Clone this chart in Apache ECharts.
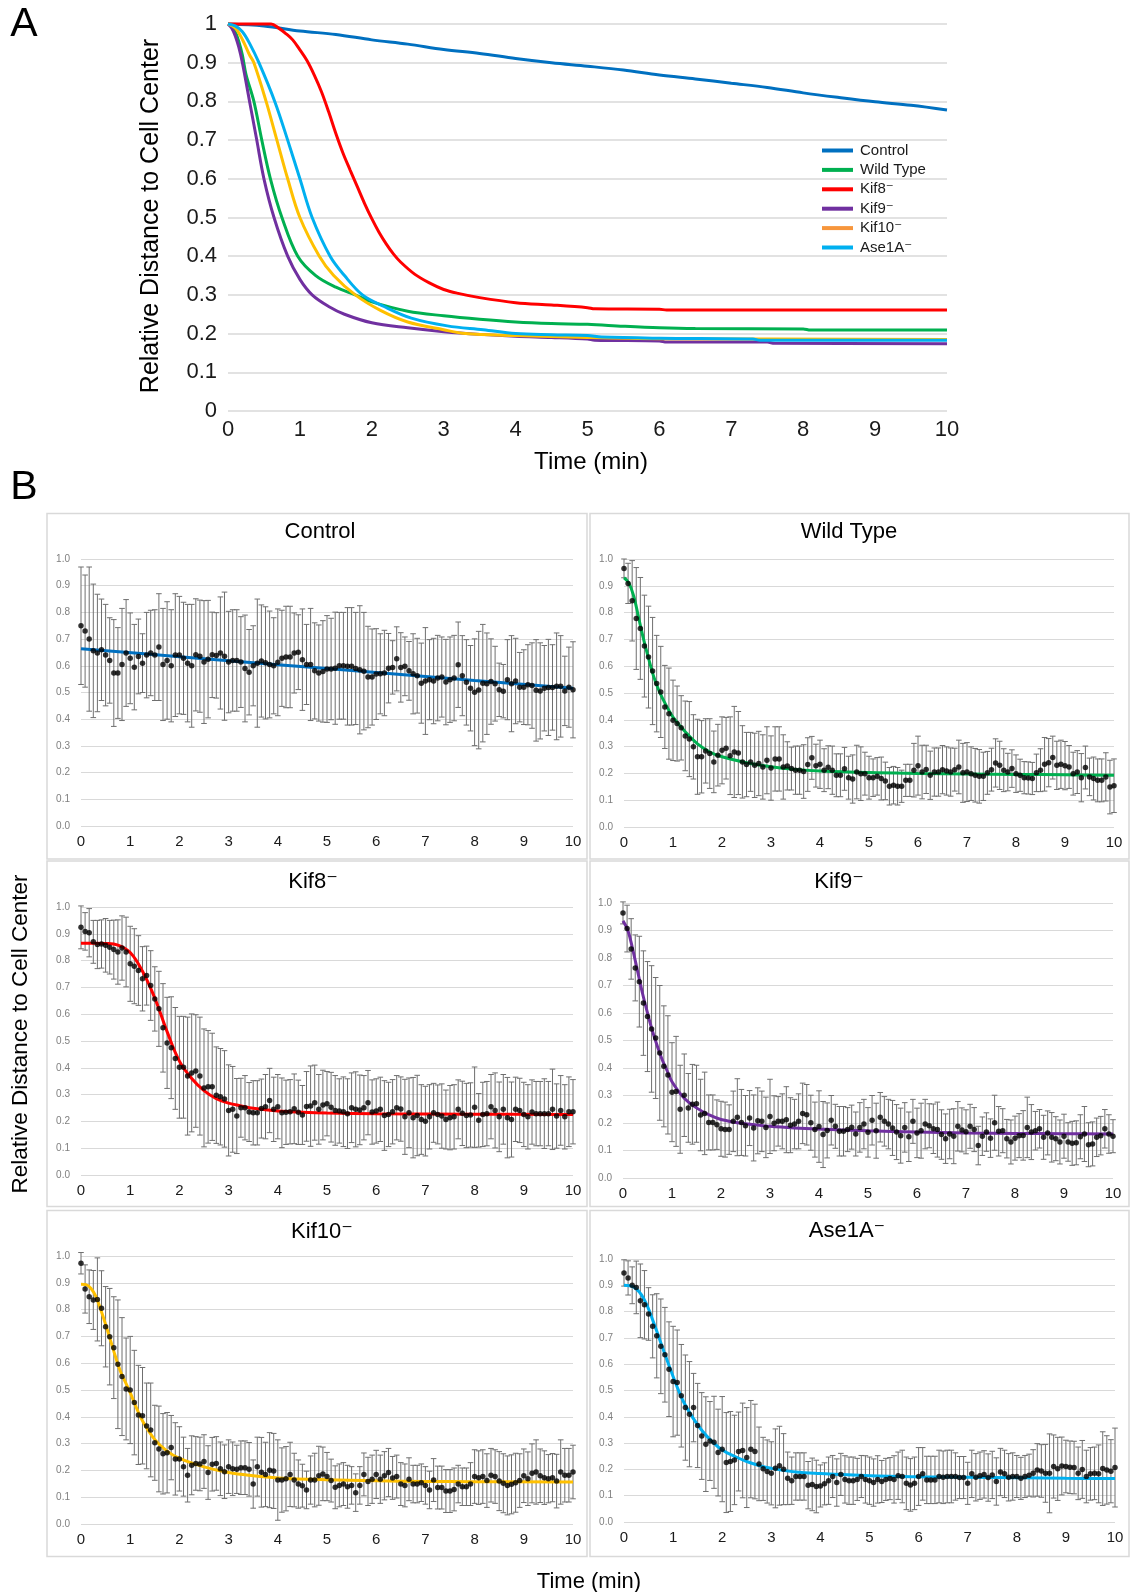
<!DOCTYPE html>
<html><head><meta charset="utf-8">
<script src="https://cdn.jsdelivr.net/npm/echarts/dist/echarts.min.js"></script>
<style>html,body{margin:0;padding:0;background:#fff}#c{width:1131px;height:1592px}</style>
</head><body><div id="c"></div>
<script>
// ---------------- Panel A : averaged curves ----------------
const legendNames = ['Control','Wild Type','Kif8\u207B','Kif9\u207B','Kif10\u207B','Ase1A\u207B'];
const lineColors = ['#0070C0','#00B050','#FF0000','#7030A0','#FFC000','#00B0F0'];
const legendColors = ['#0070C0','#00B050','#FF0000','#7030A0','#F7963C','#00B0F0'];
const ticksA = [0,1,2,3,4,5,6,7,8,9,10];

const curveControl = [[0,1],[0.5,0.995],[1,0.982],[1.5,0.973],[2,0.959],[2.5,0.948],[3,0.934],[3.5,0.924],[4,0.911],[4.5,0.9],[5,0.891],[5.5,0.881],[6,0.868],[6.5,0.858],[7,0.847],[7.5,0.836],[8,0.822],[8.5,0.81],[9,0.799],[9.5,0.79],[10,0.778]];
const curveWT = [[0,1],[0.05,0.995],[0.1,0.98],[0.15,0.955],[0.2,0.92],[0.25,0.87],[0.36,0.8],[0.47,0.7],[0.59,0.6],[0.75,0.5],[0.97,0.4],[1.22,0.35],[1.5,0.32],[1.77,0.3],[2,0.282],[2.5,0.258],[3,0.246],[3.5,0.237],[4,0.23],[4.5,0.226],[5,0.224],[5.5,0.219],[6,0.215],[6.5,0.213],[8,0.212],[8.1,0.209],[10,0.209]];
const curveKif8 = [[0,1],[0.6,1],[0.7,0.99],[0.8,0.976],[0.9,0.959],[1,0.933],[1.1,0.905],[1.2,0.868],[1.3,0.825],[1.4,0.773],[1.5,0.717],[1.6,0.666],[1.7,0.622],[1.8,0.579],[1.9,0.536],[2,0.497],[2.1,0.462],[2.2,0.432],[2.3,0.406],[2.4,0.385],[2.6,0.353],[2.8,0.331],[3,0.314],[3.2,0.304],[3.5,0.293],[4,0.28],[4.5,0.274],[5,0.267],[5.1,0.264],[6,0.263],[6.1,0.261],[10,0.261]];
const curveKif9 = [[0,1],[0.05,0.99],[0.1,0.97],[0.15,0.94],[0.2,0.9],[0.3,0.8],[0.4,0.7],[0.5,0.6],[0.64,0.5],[0.83,0.4],[1,0.34],[1.17,0.3],[1.4,0.27],[1.62,0.25],[2,0.228],[2.5,0.215],[3,0.205],[3.5,0.198],[4,0.193],[4.5,0.19],[5,0.186],[5.1,0.183],[6,0.181],[6.1,0.178],[7.5,0.178],[7.6,0.175],[10,0.174]];
const curveKif10 = [[0,1],[0.1,0.99],[0.2,0.96],[0.3,0.92],[0.36,0.9],[0.53,0.8],[0.68,0.7],[0.83,0.6],[1,0.5],[1.27,0.4],[1.47,0.35],[1.77,0.3],[2.12,0.26],[2.5,0.23],[3,0.21],[3.3,0.2],[4,0.195],[5,0.19],[6,0.187],[10,0.185]];
const curveAse1A = [[0,1],[0.1,0.995],[0.2,0.98],[0.3,0.95],[0.43,0.9],[0.65,0.8],[0.83,0.7],[1,0.6],[1.17,0.5],[1.42,0.4],[1.62,0.35],[1.87,0.3],[2.17,0.27],[2.55,0.24],[3.05,0.22],[3.55,0.21],[4,0.2],[4.5,0.197],[5,0.195],[5.2,0.191],[6,0.188],[7.3,0.186],[7.4,0.183],[10,0.183]];

// ---------------- Panel B : per-condition means (every 5 s), SD and fits ----------------
const sampleSeconds = 5;
const meanControl = [
0.75,0.73,0.70,0.656,0.648,0.66,0.64,0.62,0.573,0.573,0.605,0.648,
0.628,0.595,0.635,0.61,0.64,0.648,0.64,0.67,0.605,0.62,0.60,0.64,
0.64,0.628,0.61,0.60,0.641,0.636,0.614,0.625,0.641,0.639,0.648,0.636,
0.614,0.62,0.62,0.614,0.59,0.576,0.60,0.61,0.618,0.611,0.605,0.60,
0.613,0.628,0.633,0.633,0.648,0.651,0.623,0.605,0.605,0.581,0.573,0.579,
0.588,0.588,0.591,0.60,0.60,0.598,0.598,0.59,0.585,0.58,0.558,0.558,
0.569,0.57,0.573,0.591,0.594,0.626,0.594,0.598,0.581,0.57,0.563,0.535,
0.543,0.548,0.543,0.554,0.558,0.539,0.548,0.554,0.604,0.563,0.538,0.516,
0.501,0.509,0.535,0.533,0.541,0.533,0.51,0.505,0.548,0.533,0.543,0.52,
0.52,0.529,0.526,0.508,0.506,0.516,0.519,0.519,0.523,0.523,0.506,0.52,
0.51];
const sdControl = [
.22,.21,.27,.25,.22,.19,.19,.16,.20,.17,.21,.20,
.17,.16,.14,.11,.16,.16,.17,.20,.21,.22,.21,.23,
.22,.21,.22,.23,.21,.21,.23,.22,.16,.16,.21,.24,
.19,.19,.19,.17,.20,.16,.15,.24,.21,.21,.20,.18,
.20,.18,.19,.19,.15,.14,.19,.15,.21,.18,.18,.19,
.20,.19,.21,.20,.20,.22,.22,.21,.24,.22,.19,.18,
.17,.15,.16,.13,.10,.12,.13,.11,.11,.15,.14,.15,
.20,.15,.16,.16,.15,.16,.16,.16,.16,.15,.16,.16,
.20,.22,.22,.19,.16,.14,.10,.10,.15,.18,.16,.13,
.14,.15,.16,.19,.18,.16,.18,.16,.20,.19,.13,.15,
.18];
const meanWT = [
.965,.909,.844,.778,.741,.675,.634,.582,.535,.504,.448,.423,
.398,.386,.37,.34,.328,.299,.262,.262,.284,.274,.243,.268,
.286,.294,.266,.28,.276,.243,.233,.243,.23,.237,.224,.249,
.22,.254,.254,.224,.228,.218,.212,.212,.207,.233,.258,.229,
.234,.212,.223,.212,.193,.193,.217,.184,.179,.205,.199,.199,
.184,.184,.189,.181,.172,.152,.156,.152,.152,.174,.174,.212,
.229,.205,.215,.193,.205,.205,.214,.209,.205,.214,.224,.202,
.205,.199,.193,.189,.189,.202,.214,.239,.23,.212,.205,.218,
.199,.193,.184,.183,.181,.202,.212,.234,.24,.259,.23,.234,
.229,.224,.199,.205,.184,.222,.187,.181,.174,.174,.187,.149,
.154];
const sdWT = [
.035,.075,.15,.19,.19,.19,.19,.2,.18,.17,.155,.17,
.15,.14,.12,.13,.14,.12,.14,.135,.12,.13,.115,.115,
.125,.115,.145,.17,.155,.135,.12,.11,.12,.12,.12,.125,
.12,.12,.12,.12,.09,.08,.09,.09,.10,.10,.08,.08,
.09,.08,.08,.09,.08,.08,.08,.08,.09,.10,.10,.08,
.08,.07,.07,.08,.07,.07,.07,.07,.06,.06,.06,.10,
.11,.10,.09,.09,.09,.09,.09,.09,.09,.08,.10,.11,
.11,.10,.10,.10,.09,.08,.08,.09,.09,.08,.07,.07,
.07,.06,.06,.06,.06,.07,.08,.10,.09,.08,.09,.09,
.09,.08,.08,.08,.09,.08,.07,.08,.08,.08,.09,.10,
.10];
const meanKif8 = [
.924,.909,.904,.87,.86,.862,.857,.85,.841,.832,.847,.832,
.788,.779,.763,.732,.744,.707,.657,.62,.549,.493,.475,.435,
.402,.402,.369,.381,.388,.369,.325,.329,.329,.298,.292,.284,
.241,.245,.22,.251,.251,.235,.232,.232,.248,.255,.278,.245,
.255,.232,.234,.236,.247,.234,.224,.256,.257,.27,.245,.261,
.266,.253,.241,.239,.236,.229,.251,.245,.243,.251,.27,.235,
.239,.245,.222,.226,.236,.251,.246,.217,.232,.214,.222,.207,
.201,.217,.232,.226,.22,.207,.214,.217,.245,.23,.222,.224,
.253,.204,.226,.229,.255,.241,.217,.245,.214,.207,.245,.241,
.226,.217,.235,.229,.229,.229,.229,.245,.22,.241,.217,.236,
.236];
const sdKif8 = [
.08,.07,.09,.08,.09,.09,.10,.10,.11,.12,.12,.13,
.14,.14,.13,.12,.11,.13,.12,.14,.165,.17,.19,.19,
.19,.19,.22,.22,.21,.22,.22,.21,.20,.18,.18,.18,
.17,.16,.14,.11,.12,.11,.12,.12,.11,.12,.12,.12,
.12,.13,.12,.12,.13,.12,.11,.13,.15,.14,.13,.13,
.12,.13,.13,.12,.13,.13,.13,.14,.13,.12,.12,.12,
.12,.12,.13,.12,.12,.12,.12,.14,.13,.15,.15,.13,
.13,.12,.11,.11,.12,.11,.12,.12,.11,.12,.12,.12,
.15,.10,.12,.12,.12,.14,.13,.13,.15,.14,.12,.12,
.12,.12,.12,.12,.12,.13,.12,.15,.12,.13,.12,.13,
.12];
const meanKif9 = [
.964,.907,.833,.764,.714,.636,.587,.542,.509,.455,.406,.375,
.312,.315,.25,.301,.255,.268,.27,.229,.235,.202,.202,.194,
.179,.176,.176,.206,.221,.202,.19,.218,.182,.208,.206,.184,
.224,.199,.206,.206,.212,.192,.196,.206,.235,.23,.201,.176,
.187,.158,.173,.21,.188,.17,.17,.176,.185,.16,.184,.196,
.166,.21,.172,.221,.206,.196,.182,.167,.154,.184,.15,.206,
.164,.172,.196,.19,.179,.176,.158,.143,.16,.152,.188,.175,
.168,.188,.176,.118,.152,.167,.145,.201,.17,.172,.143,.131,
.145,.154,.155,.184,.167,.172,.179,.148,.164,.148,.143,.131,
.152,.131,.126,.128,.15,.16,.121,.124,.148,.154,.179,.16,
.152];
const sdKif9 = [
.04,.085,.11,.12,.165,.19,.2,.23,.22,.245,.22,.215,
.18,.2,.16,.15,.125,.145,.14,.13,.15,.10,.10,.09,
.10,.10,.09,.11,.14,.12,.11,.10,.12,.12,.11,.11,
.135,.10,.09,.10,.12,.10,.09,.10,.11,.11,.10,.10,
.13,.12,.10,.09,.08,.09,.09,.08,.08,.08,.09,.09,
.09,.09,.10,.09,.09,.09,.10,.10,.10,.09,.09,.08,
.09,.10,.09,.08,.09,.10,.09,.09,.09,.10,.09,.08,
.08,.08,.08,.07,.07,.07,.07,.10,.09,.08,.07,.08,
.08,.08,.09,.11,.10,.07,.07,.08,.08,.09,.08,.08,
.08,.07,.08,.08,.08,.10,.08,.08,.07,.07,.07,.07,
.06];
const meanKif10 = [
.973,.877,.848,.836,.838,.805,.736,.699,.658,.596,.55,.504,
.5,.453,.407,.404,.366,.351,.303,.28,.262,.266,.285,.243,
.243,.214,.182,.219,.226,.224,.233,.192,.223,.226,.206,.195,
.214,.206,.204,.21,.21,.204,.149,.214,.193,.185,.201,.198,
.164,.164,.169,.185,.164,.149,.143,.127,.164,.164,.18,.187,
.177,.162,.137,.144,.149,.139,.144,.117,.144,.185,.159,.167,
.185,.167,.18,.192,.172,.177,.149,.144,.167,.149,.149,.154,
.144,.127,.164,.136,.136,.123,.123,.129,.149,.139,.139,.149,
.177,.173,.177,.162,.182,.177,.16,.152,.144,.148,.154,.162,
.18,.169,.189,.194,.18,.173,.169,.173,.16,.194,.182,.182,
.194];
const sdKif10 = [
.04,.09,.10,.11,.155,.14,.15,.18,.19,.24,.22,.19,
.20,.195,.185,.18,.16,.175,.14,.16,.15,.15,.12,.135,
.12,.11,.10,.11,.10,.10,.10,.10,.10,.10,.10,.10,
.10,.10,.09,.10,.10,.10,.09,.11,.13,.12,.14,.14,
.15,.12,.12,.12,.10,.09,.08,.07,.09,.10,.11,.10,
.09,.08,.08,.08,.08,.08,.07,.07,.07,.08,.09,.09,
.09,.09,.09,.09,.08,.08,.08,.08,.08,.07,.07,.07,
.07,.07,.08,.08,.08,.08,.08,.08,.07,.07,.07,.08,
.10,.10,.10,.10,.10,.10,.11,.11,.11,.11,.11,.10,
.10,.10,.11,.12,.10,.10,.09,.09,.10,.12,.10,.10,
.10];
const meanAse1A = [
.947,.928,.9,.892,.841,.826,.791,.744,.708,.668,.636,.581,
.534,.53,.48,.435,.41,.435,.367,.327,.296,.308,.303,.264,
.277,.226,.23,.236,.268,.272,.245,.277,.268,.221,.202,.192,
.185,.204,.214,.201,.166,.157,.173,.173,.173,.14,.143,.135,
.137,.145,.157,.173,.15,.181,.162,.157,.157,.162,.173,.162,
.157,.15,.162,.154,.162,.165,.162,.176,.173,.147,.141,.147,
.173,.183,.16,.16,.16,.173,.17,.173,.173,.173,.169,.169,
.147,.183,.17,.176,.181,.169,.179,.154,.19,.183,.17,.173,
.173,.166,.173,.178,.185,.198,.194,.185,.185,.211,.202,.213,
.211,.208,.207,.185,.2,.173,.183,.185,.183,.203,.198,.193,
.207];
const sdAse1A = [
.05,.065,.07,.10,.14,.13,.10,.12,.16,.18,.18,.18,
.21,.20,.195,.20,.20,.13,.16,.165,.18,.15,.175,.165,
.20,.19,.19,.17,.15,.18,.19,.185,.18,.14,.12,.12,
.12,.15,.15,.135,.10,.09,.09,.09,.09,.09,.10,.10,
.08,.08,.09,.08,.09,.08,.09,.09,.09,.08,.08,.09,
.09,.09,.09,.08,.08,.08,.09,.09,.10,.10,.10,.10,
.11,.10,.09,.09,.09,.10,.10,.10,.10,.09,.08,.08,
.08,.09,.09,.09,.09,.09,.09,.09,.09,.09,.09,.09,
.08,.08,.08,.08,.09,.10,.10,.11,.15,.12,.12,.11,
.10,.10,.10,.10,.11,.10,.10,.10,.11,.14,.13,.12,
.15];

const fitControl = [[0,0.664],[2,0.634],[4,0.604],[6,0.575],[8,0.545],[10,0.516]];
const fitWT = [[0,0.93],[0.1,0.91],[0.2,0.86],[0.3,0.78],[0.4,0.7],[0.5,0.63],[0.6,0.565],[0.7,0.515],[0.8,0.475],[0.9,0.44],[1,0.41],[1.25,0.355],[1.5,0.31],[1.75,0.28],[2,0.262],[2.5,0.24],[3,0.225],[3.5,0.215],[4,0.209],[5,0.203],[6,0.2],[7,0.198],[8,0.196],[9,0.195],[10,0.193]];
const fitKif8 = [[0,0.865],[0.25,0.865],[0.5,0.864],[0.75,0.858],[1,0.83],[1.25,0.76],[1.5,0.66],[1.75,0.535],[2,0.425],[2.25,0.36],[2.5,0.315],[2.75,0.285],[3,0.268],[3.25,0.258],[3.5,0.249],[4,0.239],[4.5,0.234],[5,0.231],[6,0.229],[8,0.227],[10,0.226]];
const fitKif9 = [[0,0.935],[0.1,0.9],[0.2,0.83],[0.3,0.75],[0.4,0.67],[0.5,0.6],[0.6,0.535],[0.7,0.48],[0.8,0.43],[0.9,0.39],[1,0.35],[1.25,0.29],[1.5,0.255],[1.75,0.23],[2,0.213],[2.5,0.197],[3,0.188],[3.5,0.182],[4,0.178],[5,0.172],[6,0.167],[7,0.164],[8,0.162],[9,0.161],[10,0.16]];
const fitKif10 = [[0,0.895],[0.1,0.893],[0.2,0.88],[0.3,0.85],[0.4,0.8],[0.5,0.745],[0.6,0.685],[0.7,0.625],[0.8,0.57],[0.9,0.53],[1,0.49],[1.1,0.445],[1.25,0.385],[1.5,0.315],[1.75,0.272],[2,0.245],[2.5,0.213],[3,0.192],[3.5,0.18],[4,0.172],[5,0.165],[6,0.161],[7,0.159],[8,0.158],[10,0.157]];
const fitAse1A = [[0,0.9],[0.2,0.893],[0.4,0.85],[0.6,0.76],[0.8,0.655],[1,0.553],[1.2,0.462],[1.4,0.397],[1.6,0.345],[1.8,0.305],[2,0.274],[2.25,0.25],[2.5,0.23],[2.75,0.215],[3,0.204],[3.5,0.19],[4,0.184],[5,0.176],[6,0.172],[7,0.17],[8,0.168],[9,0.166],[10,0.165]];

// ---------------- build ----------------
const FONT = '"Liberation Sans", Arial, "DejaVu Sans", sans-serif';
const chart = echarts.init(document.getElementById('c'), null, {renderer:'canvas'});
const grids = [], xAxes = [], yAxes = [], series = [], graphic = [];

// Panel A
grids.push({left:228, top:24, width:719, height:387});
xAxes.push({type:'value', gridIndex:0, min:0, max:10, interval:1,
  axisLine:{show:false}, axisTick:{show:false}, splitLine:{show:false},
  axisLabel:{fontSize:22, color:'#1a1a1a', margin:8, fontFamily:FONT}});
yAxes.push({type:'value', gridIndex:0, min:0, max:1, interval:0.1,
  axisLine:{show:false}, axisTick:{show:false},
  splitLine:{lineStyle:{color:'#D9D9D9', width:1.5}},
  axisLabel:{fontSize:22, color:'#1a1a1a', margin:11, fontFamily:FONT}});
const curves = [curveControl, curveWT, curveKif8, curveKif9, curveKif10, curveAse1A];
curves.forEach((c, i) => {
  series.push({type:'line', name:legendNames[i], xAxisIndex:0, yAxisIndex:0, data:c,
    showSymbol:false, symbol:'none', smooth:0.35, clip:false,
    lineStyle:{color:lineColors[i], width:3}, itemStyle:{color:legendColors[i]}, z:2+i});
});

// Panel B
const panels = [
  {title:'Control', mean:meanControl, sd:sdControl, fit:fitControl, color:'#0070C0', grid:{left:81, top:559, width:492, height:267}, tx:320, ty:532},
  {title:'Wild Type', mean:meanWT, sd:sdWT, fit:fitWT, color:'#00B050', grid:{left:624, top:559, width:490, height:268}, tx:849, ty:532},
  {title:'Kif8\u207B', mean:meanKif8, sd:sdKif8, fit:fitKif8, color:'#FF0000', grid:{left:81, top:907, width:492, height:268}, tx:313, ty:882},
  {title:'Kif9\u207B', mean:meanKif9, sd:sdKif9, fit:fitKif9, color:'#7030A0', grid:{left:623, top:903, width:490, height:275}, tx:839, ty:882},
  {title:'Kif10\u207B', mean:meanKif10, sd:sdKif10, fit:fitKif10, color:'#FFC000', grid:{left:81, top:1256, width:492, height:268}, tx:322, ty:1232},
  {title:'Ase1A\u207B', mean:meanAse1A, sd:sdAse1A, fit:fitAse1A, color:'#00B0F0', grid:{left:624, top:1259, width:491, height:263}, tx:847, ty:1231}
];

function errRender(params, api) {
  const x = api.value(0), lo = api.value(1), hi = api.value(2);
  const a = api.coord([x, lo]), b = api.coord([x, hi]);
  const w = 2.8;
  const st = {stroke:'#6F6F6F', lineWidth:1};
  return {type:'group', children:[
    {type:'line', shape:{x1:a[0], y1:a[1], x2:b[0], y2:b[1]}, style:st},
    {type:'line', shape:{x1:b[0]-w, y1:b[1], x2:b[0]+w, y2:b[1]}, style:st},
    {type:'line', shape:{x1:a[0]-w, y1:a[1], x2:a[0]+w, y2:a[1]}, style:st}
  ]};
}

panels.forEach((p, k) => {
  const gi = k + 1;
  grids.push(p.grid);
  xAxes.push({type:'value', gridIndex:gi, min:0, max:10, interval:1,
    axisLine:{show:false}, axisTick:{show:false}, splitLine:{show:false},
    axisLabel:{fontSize:15, color:'#1a1a1a', margin:8, fontFamily:FONT}});
  yAxes.push({type:'value', gridIndex:gi, min:0, max:1, interval:0.1,
    axisLine:{show:false}, axisTick:{show:false},
    splitLine:{lineStyle:{color:'#D9D9D9', width:1}},
    axisLabel:{fontSize:10, color:'#7F7F7F', margin:11, fontFamily:FONT, formatter:v => v.toFixed(1)}});
  const times = p.mean.map((_, i) => i * sampleSeconds / 60);
  series.push({type:'custom', name:p.title+' SD', xAxisIndex:gi, yAxisIndex:gi, renderItem:errRender,
    encode:{x:0, y:[1,2]}, clip:false, z:2,
    data:p.mean.map((m, i) => [times[i], m - p.sd[i], m + p.sd[i]])});
  series.push({type:'line', name:p.title+' fit', xAxisIndex:gi, yAxisIndex:gi, data:p.fit,
    showSymbol:false, symbol:'none', smooth:0.4, clip:false, z:3,
    lineStyle:{color:p.color, width:3}});
  series.push({type:'scatter', name:p.title+' mean', xAxisIndex:gi, yAxisIndex:gi,
    data:p.mean.map((m, i) => [times[i], m]), symbolSize:5.5, clip:false, z:4,
    itemStyle:{color:'#000'}});
  graphic.push({type:'text', x:p.tx, y:p.ty, silent:true,
    style:{text:p.title, font:'22px '+FONT, fill:'#000', align:'center', verticalAlign:'middle'}});
});

// boxes around panel B plots
const boxCols = [[47, 540], [590, 539]];
const boxRows = [[513.5, 345.5], [861, 345.5], [1210.5, 346]];
boxRows.forEach(r => boxCols.forEach(c => {
  graphic.push({type:'rect', silent:true, z:-1, shape:{x:c[0], y:r[0], width:c[1], height:r[1]},
    style:{fill:'none', stroke:'#D9D9D9', lineWidth:1.5}});
}));

// labels
graphic.push({type:'text', x:24, y:25, silent:true, style:{text:'A', font:'41px '+FONT, fill:'#000', align:'center', verticalAlign:'middle'}});
graphic.push({type:'text', x:24, y:488, silent:true, style:{text:'B', font:'41px '+FONT, fill:'#000', align:'center', verticalAlign:'middle'}});
graphic.push({type:'text', x:151, y:216, rotation:Math.PI/2, silent:true, style:{text:'Relative Distance to Cell Center', font:'25px '+FONT, fill:'#000', align:'center', verticalAlign:'middle'}});
graphic.push({type:'text', x:591, y:462, silent:true, style:{text:'Time (min)', font:'24px '+FONT, fill:'#000', align:'center', verticalAlign:'middle'}});
graphic.push({type:'text', x:21, y:1034, rotation:Math.PI/2, silent:true, style:{text:'Relative Distance to Cell Center', font:'22.5px '+FONT, fill:'#000', align:'center', verticalAlign:'middle'}});
graphic.push({type:'text', x:589, y:1582, silent:true, style:{text:'Time (min)', font:'22px '+FONT, fill:'#000', align:'center', verticalAlign:'middle'}});

const option = {
  animation:false,
  backgroundColor:'#fff',
  textStyle:{fontFamily:FONT},
  grid:grids, xAxis:xAxes, yAxis:yAxes, series:series, graphic:graphic,
  legend:{data:legendNames, orient:'vertical', left:817, top:138, itemWidth:31, itemHeight:4,
    itemGap:4.4, icon:'rect', selectedMode:false,
    textStyle:{fontSize:15, color:'#1a1a1a', fontFamily:FONT, padding:[0,0,0,2]}}
};
chart.setOption(option);
</script></body></html>
